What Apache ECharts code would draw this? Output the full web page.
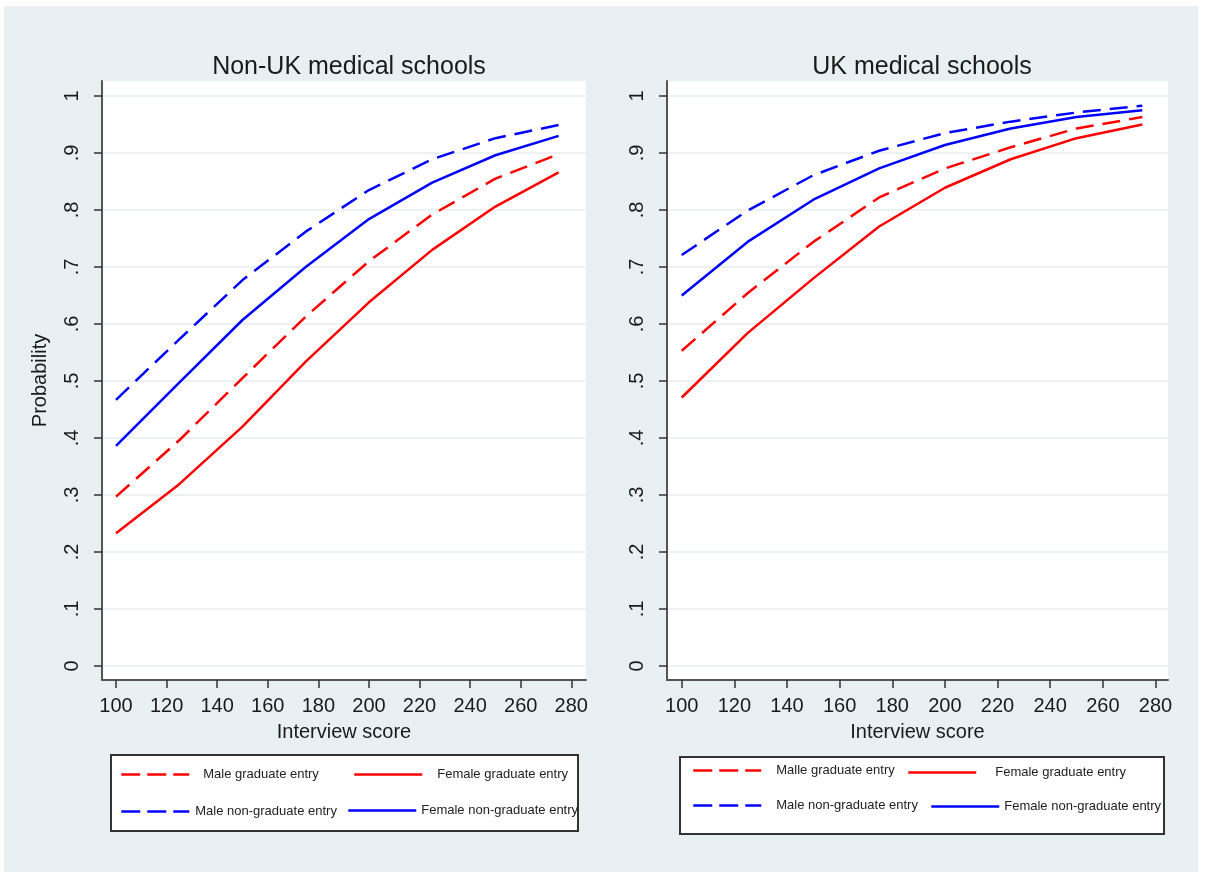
<!DOCTYPE html>
<html>
<head>
<meta charset="utf-8">
<title>Probability by interview score</title>
<script src="https://cdn.jsdelivr.net/npm/echarts@6/dist/echarts.min.js"></script>
<style>
  html, body { margin: 0; padding: 0; background: #fff; }
  #backdrop { position: absolute; left: 4px; top: 6px; width: 1194px; height: 866px; background: #e8f0f3; }
  #chart { position: absolute; left: 0; top: 0; width: 1205px; height: 878px; }
</style>
</head>
<body>
<div id="backdrop"></div>
<div id="chart"></div>
<script>
// interview scores where the predicted probabilities were evaluated
const scores = [100, 125, 150, 175, 200, 225, 250, 275];

const xTicks = [100, 120, 140, 160, 180, 200, 220, 240, 260, 280];
const yTicks = [0, 0.1, 0.2, 0.3, 0.4, 0.5, 0.6, 0.7, 0.8, 0.9, 1];
const yTickLabels = ["0", ".1", ".2", ".3", ".4", ".5", ".6", ".7", ".8", ".9", "1"];

const panelTitles = ["Non-UK medical schools", "UK medical schools"];

// Non-UK medical schools
const nonUkMaleGrad = [0.297, 0.396, 0.505, 0.613, 0.710, 0.792, 0.855, 0.898];
const nonUkFemaleGrad = [0.233, 0.319, 0.420, 0.534, 0.638, 0.730, 0.806, 0.866];
const nonUkMaleNonGrad = [0.467, 0.573, 0.677, 0.762, 0.835, 0.889, 0.926, 0.949];
const nonUkFemaleNonGrad = [0.386, 0.497, 0.607, 0.700, 0.784, 0.848, 0.896, 0.930];

// UK medical schools
const ukMaleGrad = [0.553, 0.654, 0.744, 0.822, 0.873, 0.910, 0.943, 0.963];
const ukFemaleGrad = [0.471, 0.584, 0.680, 0.771, 0.839, 0.889, 0.926, 0.950];
const ukMaleNonGrad = [0.721, 0.799, 0.861, 0.904, 0.935, 0.955, 0.971, 0.983];
const ukFemaleNonGrad = [0.650, 0.744, 0.818, 0.873, 0.914, 0.943, 0.963, 0.975];

const RED = "#ff0000";
const BLUE = "#0000ff";
const DASH = [18, 9];
const TEXT = "#1a1a1a";

const chart = echarts.init(document.getElementById("chart"));

function pairs(values) {
  return scores.map((s, i) => [s, values[i]]);
}

function xAxisFor(gridIndex, min, max) {
  return {
    type: "value",
    gridIndex,
    min,
    max,
    name: "Interview score",
    nameLocation: "middle",
    nameGap: 42,
    nameTextStyle: { fontSize: 20, color: TEXT },
    axisLine: { show: true, onZero: false, lineStyle: { color: "#555", width: 2 } },
    axisTick: { show: true, length: 8, customValues: xTicks, lineStyle: { color: "#333", width: 1.5 } },
    axisLabel: { customValues: xTicks, margin: 16, fontSize: 20, color: TEXT },
    splitLine: { show: false }
  };
}

function yAxisFor(gridIndex, name) {
  return {
    type: "value",
    gridIndex,
    min: -0.0246,
    max: 1.0263,
    name,
    nameLocation: "middle",
    nameGap: 52,
    nameRotate: 90,
    nameTextStyle: { fontSize: 20, color: TEXT },
    axisLine: { show: true, onZero: false, lineStyle: { color: "#555", width: 2 } },
    axisTick: { show: true, length: 8, customValues: yTicks, lineStyle: { color: "#333", width: 1.5 } },
    axisLabel: {
      customValues: yTicks,
      rotate: 90,
      margin: 20,
      fontSize: 20,
      color: TEXT,
      formatter: (v) => yTickLabels[Math.round(v * 10)]
    },
    splitLine: { show: true, lineStyle: { color: "#e6eef1", width: 1.5 } }
  };
}

function line(name, values, color, dashed, idx) {
  return {
    name,
    type: "line",
    xAxisIndex: idx,
    yAxisIndex: idx,
    data: pairs(values),
    symbol: "none",
    itemStyle: { color },
    lineStyle: { color, width: 2.5, type: dashed ? DASH : "solid" }
  };
}

// one legend per key so each one can sit where the original put it
function legendItem(name, left, top, padLeft, dashed) {
  return {
    data: [name],
    left,
    top,
    padding: 0,
    itemWidth: 68,
    itemHeight: 14,
    selectedMode: false,
    itemStyle: { opacity: 0 },
    lineStyle: { width: 2.5, type: dashed ? [19, 7] : "solid" },
    textStyle: { fontSize: 13, color: "#222", padding: [0, 0, 0, padLeft] }
  };
}

chart.setOption({
  animation: false,
  textStyle: { fontFamily: "Liberation Sans, Arial, sans-serif" },
  title: [
    { text: panelTitles[0], left: 344, top: 50, textAlign: "center",
      textStyle: { fontSize: 25, fontWeight: "normal", color: TEXT } },
    { text: panelTitles[1], left: 917, top: 50, textAlign: "center",
      textStyle: { fontSize: 25, fontWeight: "normal", color: TEXT } }
  ],
  grid: [
    { left: 102, top: 81, width: 484, height: 599, show: true, backgroundColor: "#fff", borderWidth: 0 },
    { left: 667, top: 81, width: 501, height: 599, show: true, backgroundColor: "#fff", borderWidth: 0 }
  ],
  xAxis: [xAxisFor(0, 94.47, 285.81), xAxisFor(1, 94.39, 284.77)],
  yAxis: [yAxisFor(0, "Probability"), yAxisFor(1, "")],
  legend: [
    legendItem("Male graduate entry", 120, 768, 9, true),
    legendItem("Female graduate entry", 353, 768, 10, false),
    legendItem("Male non-graduate entry", 120, 805, 1, true),
    legendItem("Female non-graduate entry", 347, 804, 0, false),
    legendItem("Malle graduate entry", 692, 764, 10, true),
    legendItem("Female graduate entry", 907, 766, 14, false),
    legendItem("Male non-graduate entry", 692, 799, 10, true),
    legendItem("Female non-graduate entry", 930, 800, 0, false)
  ],
  graphic: [
    { type: "rect", shape: { x: 111, y: 755, width: 467, height: 76 },
      style: { fill: "#fff", stroke: "#333", lineWidth: 2 } },
    { type: "rect", shape: { x: 680, y: 757, width: 484, height: 77 },
      style: { fill: "#fff", stroke: "#333", lineWidth: 2 } }
  ],
  series: [
    line("Male graduate entry", nonUkMaleGrad, RED, true, 0),
    line("Female graduate entry", nonUkFemaleGrad, RED, false, 0),
    line("Male non-graduate entry", nonUkMaleNonGrad, BLUE, true, 0),
    line("Female non-graduate entry", nonUkFemaleNonGrad, BLUE, false, 0),
    line("Malle graduate entry", ukMaleGrad, RED, true, 1),
    line("Female graduate entry", ukFemaleGrad, RED, false, 1),
    line("Male non-graduate entry", ukMaleNonGrad, BLUE, true, 1),
    line("Female non-graduate entry", ukFemaleNonGrad, BLUE, false, 1)
  ]
});

window.addEventListener("resize", () => chart.resize());
</script>
</body>
</html>
